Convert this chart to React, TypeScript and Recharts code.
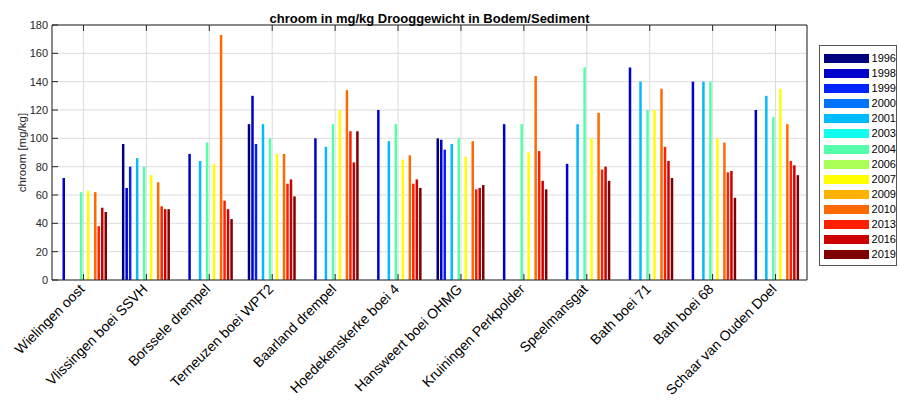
import React from 'react';
import { BarChart, Bar, XAxis, YAxis, CartesianGrid, Legend } from 'recharts';

const locations = [
  'Wielingen oost', 'Vlissingen boei SSVH', 'Borssele drempel', 'Terneuzen boei WPT2',
  'Baarland drempel', 'Hoedekenskerke boei 4', 'Hansweert boei OHMG', 'Kruiningen Perkpolder',
  'Speelmansgat', 'Bath boei 71', 'Bath boei 68', 'Schaar van Ouden Doel',
];

const years = ['1996', '1998', '1999', '2000', '2001', '2003', '2004', '2006', '2007', '2009', '2010', '2013', '2016', '2019'];

const colors = [
  '#00007f', '#0000cc', '#0022ff', '#0073ff', '#00bbff', '#11ffee', '#55ffaa',
  '#aaff55', '#ffff00', '#ffb300', '#ff6a00', '#ff2000', '#cc0000', '#7f0000',
];

// chroom per locatie (mg/kg), null = geen meting
const v1996 = [null, 96, null, 110, null, null, 100, null, null, null, null, null];
const v1998 = [72, 65, 89, 130, 100, 120, 99, 110, 82, 150, 140, 120];
const v1999 = [null, 80, null, 96, null, null, 92, null, null, null, null, null];
const v2000 = [null, null, null, null, null, null, null, null, null, null, null, null];
const v2001 = [null, 86, 84, 110, 94, 98, 96, null, 110, 140, 140, 130];
const v2003 = [null, null, null, null, null, null, null, null, null, null, null, null];
const v2004 = [62, 80, 97, 100, 110, 110, 100, 110, 150, 120, 140, 115];
const v2006 = [null, null, null, null, null, null, null, null, null, null, null, null];
const v2007 = [63, 74, 82, 89, 120, 85, 87, 90, 100, 120, 100, 135];
const v2009 = [null, null, null, null, null, null, null, null, null, null, null, null];
const v2010 = [62, 69, 173, 89, 134, 88, 98, 144, 118, 135, 97, 110];
const v2013 = [38, 52, 56, 68, 105, 68, 64, 91, 78, 94, 76, 84];
const v2016 = [51, 50, 50, 71, 83, 71, 65, 70, 80, 84, 77, 81];
const v2019 = [48, 50, 43, 59, 105, 65, 67, 64, 70, 72, 58, 74];

const seriesValues = [v1996, v1998, v1999, v2000, v2001, v2003, v2004, v2006, v2007, v2009, v2010, v2013, v2016, v2019];

const yTicks = [0, 20, 40, 60, 80, 100, 120, 140, 160, 180];

const data = locations.map((name, i) => {
  const row: Record<string, string | number | null> = { name };
  years.forEach((y, j) => { row['y' + y] = seriesValues[j][i]; });
  return row;
});

const FONT = '"Liberation Sans", Arial, Helvetica, sans-serif';
const AXIS = '#262626';

function LocationTick({ x, y, payload }: any) {
  const ax = x + 2;
  const ay = y;
  return (
    <text x={ax} y={ay} transform={`rotate(-45, ${ax}, ${ay})`} textAnchor="end"
      fontSize={14} fill="#000" fontFamily={FONT}>
      {payload.value}
    </text>
  );
}

const NoLabel = () => <g />;

function YearLegend() {
  return (
    <div style={{ border: '1px solid #555', background: '#fff', padding: '5px 0 3px 4px', fontFamily: FONT, boxSizing: 'border-box', width: 78 }}>
      {years.map((y, i) => (
        <div key={y} style={{ display: 'flex', alignItems: 'center', height: 15.08 }}>
          <span style={{ display: 'inline-block', width: 45, height: 9, background: colors[i], marginRight: 3 }} />
          <span style={{ fontSize: 11, color: '#000', lineHeight: '11px' }}>{y}</span>
        </div>
      ))}
    </div>
  );
}

export default function App() {
  return (
    <div style={{ position: 'absolute', left: 0, top: 0, width: 899, height: 400, background: '#fff' }}>
      <div style={{ position: 'absolute', left: 52, top: 11, width: 755, textAlign: 'center', fontFamily: FONT, fontWeight: 'bold', fontSize: 13, lineHeight: '15px', color: '#000', zIndex: 2 }}>
        chroom in mg/kg Drooggewicht in Bodem/Sediment
      </div>
      <BarChart width={899} height={400} data={data} margin={{ top: 24, right: 91, bottom: 0, left: 0 }}
        barSize={2.5} barGap={1}>
        <CartesianGrid stroke="#dcdcdc" strokeWidth={1} />
        <XAxis dataKey="name" interval={0} height={120} tick={<LocationTick />}
          axisLine={{ stroke: AXIS }} tickLine={{ stroke: AXIS }} tickSize={-6} tickMargin={16} />
        <XAxis xAxisId="top" dataKey="name" orientation="top" height={1} interval={0} tick={<NoLabel />}
          axisLine={{ stroke: AXIS }} tickLine={{ stroke: AXIS, strokeWidth: 1 }} tickSize={-6} tickMargin={0} />
        <YAxis domain={[0, 180]} ticks={yTicks} width={52} interval={0}
          axisLine={{ stroke: AXIS }} tickLine={{ stroke: AXIS }} tickSize={-6} tickMargin={10}
          tick={{ fontSize: 11, fill: AXIS, fontFamily: FONT }}
          label={{ value: 'chroom [mg/kg]', angle: -90, position: 'center', dx: -4, fontSize: 11.5, fill: AXIS, fontFamily: FONT }} />
        <YAxis yAxisId="right" orientation="right" domain={[0, 180]} ticks={yTicks} width={1} interval={0}
          tick={<NoLabel />} axisLine={{ stroke: AXIS }} tickLine={{ stroke: AXIS }} tickSize={-6} tickMargin={0} />
        {years.map((y, j) => (
          <Bar key={y} dataKey={'y' + y} name={y} fill={colors[j]} isAnimationActive={false} />
        ))}
        <Legend layout="vertical" align="center" verticalAlign="middle" content={<YearLegend />}
          wrapperStyle={{ left: 819, top: 45, width: 78, height: 'auto' }} />
      </BarChart>
    </div>
  );
}
